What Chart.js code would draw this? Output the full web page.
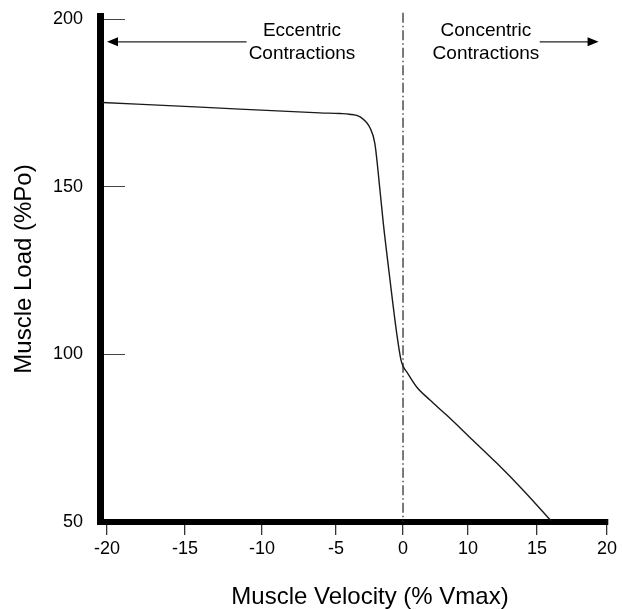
<!DOCTYPE html>
<html>
<head>
<meta charset="utf-8">
<script src="https://cdn.jsdelivr.net/npm/chart.js@4.4.1/dist/chart.umd.min.js"></script>
<style>
html,body{margin:0;padding:0;background:#ffffff;}
#wrap{width:622px;height:610px;position:relative;}
</style>
</head>
<body>
<div id="wrap"><canvas id="c"></canvas></div>
<script>
// ---- data ----
const velocity = [-20.3, -14.0, -6.1, -4.7, -4.0, -3.2, -2.45, -2.1, -1.72, -1.47, -0.97, -0.47, -0.15, 0.05, 0.57, 2.1, 4.15, 6.7, 10.1, 12.1, 14.0, 16.0];
const load     = [175.2, 173.8, 172.1, 171.9, 171.7, 170.9, 167.5, 162.9, 149.0, 139.1, 122.2, 106.3, 98.3, 96.3, 94.8, 90.3, 86.4, 81.9, 75.4, 67.5, 59.5, 50.4];
const xTickValues = [-20, -15, -10, -5, 0, 10, 15, 20];
const yTickValues = [50, 100, 150, 200];
const xTitle = 'Muscle Velocity (% Vmax)';
const yTitle = 'Muscle Load (%Po)';
const eccentricNote = ['Eccentric', 'Contractions'];
const concentricNote = ['Concentric', 'Contractions'];

const FONT = "Arial, 'Liberation Sans', Helvetica, sans-serif";

// piecewise-linear scale: the printed axis is not evenly spaced
class PiecewiseScale extends Chart.LinearScale {
  static id = 'piecewise';
  static defaults = {};
  buildTicks() {
    return (this.options.tickValues || []).map(v => ({value: v}));
  }
  _decFor(v) {
    const s = this.options.stops;
    let i = 0;
    while (i < s.length - 2 && v > s[i + 1][0]) i++;
    const v0 = s[i][0], d0 = s[i][1], v1 = s[i + 1][0], d1 = s[i + 1][1];
    return d0 + (v - v0) / (v1 - v0) * (d1 - d0);
  }
  getPixelForValue(v) {
    if (v === null || v === undefined || isNaN(v)) return NaN;
    return this.getPixelForDecimal(this._decFor(v));
  }
  getValueForPixel(p) {
    const d = this.getDecimalForPixel(p);
    const s = this.options.stops;
    let i = 0;
    while (i < s.length - 2 && d > s[i + 1][1]) i++;
    const v0 = s[i][0], d0 = s[i][1], v1 = s[i + 1][0], d1 = s[i + 1][1];
    return v0 + (d - d0) / (d1 - d0) * (v1 - v0);
  }
}
Chart.register(PiecewiseScale);

const notesPlugin = {
  id: 'notes',
  beforeDatasetsDraw(chart) {
    const {ctx, scales: {x, y}} = chart;
    const px = x.getPixelForValue(0);
    ctx.save();
    ctx.strokeStyle = '#222';
    ctx.lineWidth = 1.2;
    ctx.setLineDash([10, 3, 1.5, 3]);
    ctx.beginPath();
    ctx.moveTo(px, y.getPixelForValue(202));
    ctx.lineTo(px, y.getPixelForValue(50));
    ctx.stroke();
    ctx.restore();
  },
  afterDraw(chart) {
    const {ctx, scales: {x, y}, chartArea} = chart;
    ctx.save();
    ctx.fillStyle = '#000';
    ctx.font = '19px ' + FONT;
    ctx.textAlign = 'center';
    ctx.textBaseline = 'middle';
    ctx.fillText(eccentricNote[0], x.getPixelForValue(-7.3), y.getPixelForValue(196.6));
    ctx.fillText(eccentricNote[1], x.getPixelForValue(-7.3), y.getPixelForValue(189.8));
    ctx.fillText(concentricNote[0], x.getPixelForValue(11.3), y.getPixelForValue(196.6));
    ctx.fillText(concentricNote[1], x.getPixelForValue(11.3), y.getPixelForValue(189.8));

    function arrow(xFrom, xTo, yv) {
      const a = x.getPixelForValue(xFrom), b = x.getPixelForValue(xTo), yy = y.getPixelForValue(yv);
      const dir = Math.sign(b - a);
      ctx.strokeStyle = '#222';
      ctx.lineWidth = 1.2;
      ctx.beginPath();
      ctx.moveTo(a, yy);
      ctx.lineTo(b - dir * 8, yy);
      ctx.stroke();
      ctx.fillStyle = '#000';
      ctx.beginPath();
      ctx.moveTo(b, yy);
      ctx.lineTo(b - dir * 11, yy - 4.5);
      ctx.lineTo(b - dir * 11, yy + 4.5);
      ctx.closePath();
      ctx.fill();
    }
    arrow(-11, -20, 193.3);
    arrow(15.2, 19.4, 193.3);

    // x axis title
    ctx.fillStyle = '#000';
    ctx.font = '24px ' + FONT;
    ctx.textAlign = 'center';
    ctx.textBaseline = 'middle';
    ctx.fillText(xTitle, (chartArea.left + chartArea.right) / 2 + 16, 597);
    ctx.restore();
  }
};

new Chart(document.getElementById('c'), {
  type: 'line',
  data: {
    datasets: [{
      data: velocity.map((v, i) => ({x: v, y: load[i]})),
      borderColor: '#1a1a1a',
      borderWidth: 1.4,
      pointRadius: 0,
      fill: false,
      cubicInterpolationMode: 'monotone'
    }]
  },
  options: {
    responsive: true,
    maintainAspectRatio: false,
    animation: false,
    devicePixelRatio: 1,
    layout: {padding: {top: 16, right: 14, bottom: 0, left: 0}},
    plugins: {legend: {display: false}, tooltip: {enabled: false}, title: {display: false}},
    scales: {
      x: {
        type: 'piecewise',
        min: -20.45,
        max: 20.05,
        tickValues: xTickValues,
        stops: [[-20, 0.0138], [-15, 0.1673], [-10, 0.3189], [-5, 0.4646], [0, 0.5965], [10, 0.7244], [15, 0.8602], [20, 0.998]],
        afterFit: s => { s.height = 88; s.paddingLeft = 0; s.paddingRight = 0; },
        border: {display: true, color: '#000', width: 6},
        grid: {drawOnChartArea: false, drawTicks: true, tickLength: 13, color: '#333', lineWidth: 1.3},
        ticks: {autoSkip: false, maxRotation: 0, padding: 3, color: '#000', font: {family: FONT, size: 18},
                callback: v => String(v)},
        title: {display: false}
      },
      y: {
        type: 'linear',
        min: 50,
        max: 201,
        afterBuildTicks: s => { s.ticks = yTickValues.map(v => ({value: v})); },
        afterFit: s => { s.width = 100; s.paddingTop = 8; s.paddingBottom = 8; },
        border: {display: true, color: '#000', width: 7},
        grid: {drawOnChartArea: false, drawTicks: true, tickLength: -25, color: '#444', lineWidth: 1},
        ticks: {padding: 42, color: '#000', font: {family: FONT, size: 18}, callback: v => String(v)},
        title: {display: true, text: yTitle, color: '#000', font: {family: FONT, size: 24}, padding: {top: 10, bottom: 0}}
      }
    }
  },
  plugins: [notesPlugin]
});
</script>
</body>
</html>
